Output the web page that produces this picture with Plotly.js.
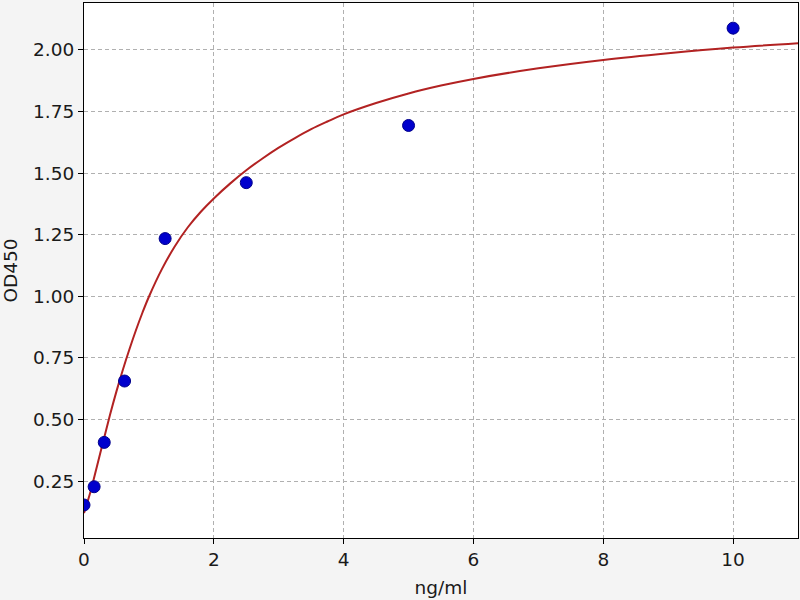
<!DOCTYPE html>
<html>
<head>
<meta charset="utf-8">
<script src="https://cdn.plot.ly/plotly-3.0.1.min.js"></script>
<style>
  html, body { margin: 0; padding: 0; background: #f4f4f4; }
  #chart { width: 800px; height: 600px; }
</style>
</head>
<body>
<div id="chart"></div>
<script>
// standard points (concentration vs OD)
const concentration = [0, 0.156, 0.312, 0.625, 1.25, 2.5, 5, 10];
const od450 = [0.153, 0.227, 0.407, 0.656, 1.234, 1.461, 1.693, 2.088];

// fitted curve
const curveX = [0, 0.1, 0.2, 0.3, 0.4, 0.5, 0.6, 0.7, 0.8, 0.9, 1.0, 1.2, 1.4, 1.6, 1.8, 2.0,
  2.25, 2.5, 2.75, 3.0, 3.25, 3.5, 3.75, 4.0, 4.5, 5.0, 5.5, 6.0, 7.0, 8.0, 9.0, 10.0, 11.0];
const curveY = [0.12, 0.207, 0.31, 0.415, 0.518, 0.614, 0.703, 0.785, 0.862, 0.933, 0.998, 1.11, 1.203,
  1.28, 1.343, 1.397, 1.457, 1.511, 1.559, 1.603, 1.642, 1.678, 1.709, 1.738, 1.784, 1.823, 1.855,
  1.882, 1.925, 1.959, 1.986, 2.009, 2.027];

const xTicks = [0, 2, 4, 6, 8, 10];
const yTicks = [0.25, 0.5, 0.75, 1.0, 1.25, 1.5, 1.75, 2.0];

const font = {family: 'DejaVu Sans, sans-serif', size: 18.5, color: '#1a1a1a'};

const data = [{
  x: curveX,
  y: curveY,
  mode: 'lines',
  line: {color: '#b22222', width: 2, shape: 'spline', smoothing: 1},
  hoverinfo: 'skip'
}, {
  x: concentration,
  y: od450,
  mode: 'markers',
  marker: {size: 12, color: '#0000cd', line: {color: '#00008b', width: 1}}
}];

const gridStyle = {
  showgrid: true,
  gridcolor: '#b0b0b0',
  gridwidth: 1,
  griddash: '4px,3px',
  zeroline: false,
  showline: true,
  linecolor: '#000',
  linewidth: 1,
  mirror: true,
  ticks: 'outside',
  ticklen: 5,
  tickcolor: '#000',
  tickfont: font
};

const layout = {
  width: 800,
  height: 600,
  margin: {l: 84, r: 2, t: 3, b: 62},
  paper_bgcolor: '#f4f4f4',
  plot_bgcolor: '#fff',
  showlegend: false,
  font: font,
  xaxis: Object.assign({}, gridStyle, {
    range: [0, 11],
    tickvals: xTicks,
    title: {text: 'ng/ml', font: font, standoff: 11}
  }),
  yaxis: Object.assign({}, gridStyle, {
    range: [0.019, 2.19],
    tickvals: yTicks,
    tickformat: '.2f',
    title: {text: 'OD450', font: font, standoff: 14}
  })
};

Plotly.newPlot('chart', data, layout, {displayModeBar: false, staticPlot: true});
</script>
</body>
</html>
